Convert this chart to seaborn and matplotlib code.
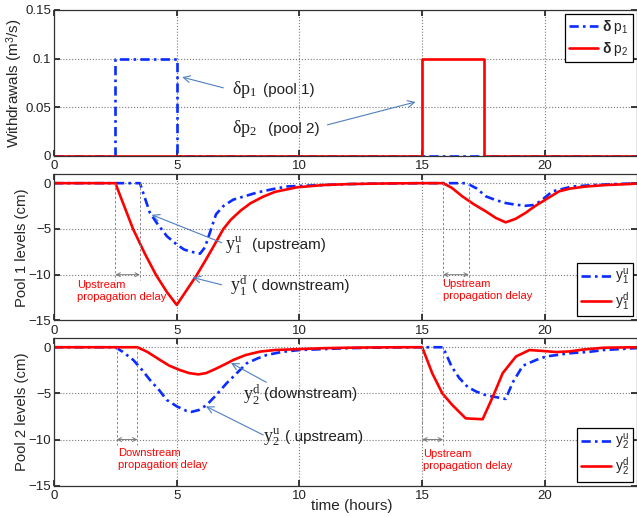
import matplotlib
matplotlib.use("Agg")
import matplotlib.pyplot as plt
import numpy as np
import pandas as pd
import seaborn as sns

# ---------------- data ----------------
# withdrawals (m^3/s)
t_dp1 = [0, 2.5, 2.5, 5, 5, 24]
v_dp1 = [0, 0, 0.1, 0.1, 0, 0]
t_dp2 = [0, 15, 15, 17.5, 17.5, 24]
v_dp2 = [0, 0, 0.1, 0.1, 0, 0]

# pool 1 levels (cm)
t_y1u = [0, 3.5, 3.6, 3.75, 3.9, 4.2, 4.6, 5.0, 5.3, 5.6, 5.95, 6.15, 6.35, 6.6, 6.9,
         7.3, 7.8, 8.3, 9.0, 9.5, 10, 11, 12, 13, 14, 15, 16.0, 16.8, 17.2, 17.6, 18.0,
         18.4, 18.8, 19.2, 19.5, 19.8, 20.3, 21.1, 22, 23, 24]
v_y1u = [0, 0, -0.8, -2.0, -3.2, -4.4, -5.8, -6.7, -7.25, -7.5, -7.7, -7.0, -5.4, -3.4, -2.5,
         -1.8, -1.4, -1.0, -0.6, -0.36, -0.3, -0.2, -0.1, -0.05, -0.02, 0, 0, 0, -0.55, -1.45, -1.85,
         -2.17, -2.35, -2.47, -2.4, -2.0, -0.9, -0.37, -0.2, -0.08, 0]
t_y1d = [0, 2.5, 2.8, 3.22, 3.7, 4.15, 4.6, 5.0, 5.4, 5.8, 6.2, 6.5, 6.9, 7.2, 7.6, 8.0,
         8.5, 9.0, 9.9, 11, 12, 13, 14, 15, 15.85, 16.2, 16.64, 17.1, 17.59, 18.0, 18.4,
         18.8, 19.2, 19.6, 19.9, 20.57, 21.0, 21.65, 22.5, 23.55, 24]
v_y1d = [0, 0, -2.1, -5.0, -7.7, -10.0, -11.9, -13.3, -11.7, -10.1, -8.3, -6.9, -5.0, -4.0, -3.0, -2.2,
         -1.5, -0.95, -0.45, -0.2, -0.1, -0.05, -0.02, 0, 0, -0.5, -1.45, -2.3, -3.08, -3.8, -4.28,
         -3.9, -3.26, -2.5, -2.0, -0.9, -0.6, -0.37, -0.2, -0.08, 0]

# pool 2 levels (cm)
t_y2u = [0, 2.5, 2.8, 3.23, 3.6, 3.91, 4.3, 4.59, 5.0, 5.4, 5.6, 5.9, 6.22, 6.6, 7.03, 7.45,
         7.85, 8.3, 8.66, 9.3, 10, 11, 12, 13, 14, 15, 15.85, 16.0, 16.2, 16.5, 16.85, 17.2,
         17.6, 18.0, 18.4, 18.69, 19.1, 19.64, 20.05, 20.46, 21.0, 21.8, 22.4, 23.7, 24]
v_y2u = [0, 0, -0.5, -1.38, -2.5, -3.55, -4.7, -5.7, -6.4, -6.9, -7.0, -6.8, -6.26, -5.2, -3.9, -2.8,
         -1.74, -1.2, -0.84, -0.5, -0.3, -0.2, -0.1, -0.05, -0.02, 0, 0, -0.9, -2.1, -3.3, -4.3, -4.8,
         -5.2, -5.4, -5.6, -3.8, -2.0, -1.38, -1.0, -0.85, -0.65, -0.5, -0.3, -0.1, -0.05]
t_y2d = [0, 3.4, 3.8, 4.32, 4.7, 5.13, 5.5, 5.88, 6.2, 6.63, 7.0, 7.3, 7.8, 8.39, 9.0, 10,
         11, 12, 13, 14, 15, 15.41, 15.82, 16.23, 16.77, 17.1, 17.46, 17.87, 18.28, 18.82,
         19.37, 19.9, 20.46, 21.0, 21.56, 22.4, 23.7, 24]
v_y2d = [0, 0, -0.5, -1.38, -2.0, -2.47, -2.8, -2.94, -2.8, -2.28, -1.8, -1.38, -0.85, -0.47, -0.3, -0.2,
         -0.1, -0.05, -0.02, 0, 0, -2.83, -5.0, -6.27, -7.7, -7.75, -7.8, -5.4, -2.8, -1.0,
         -0.3, -0.4, -0.52, -0.45, -0.25, -0.05, 0, 0]

x_ticks = [0, 5, 10, 15, 20]
top_yticks = [0, 0.05, 0.1, 0.15]
top_yticklabels = ["0", "0.05", "0.1", "0.15"]
lvl_yticks = [-15, -10, -5, 0]

# ---------------- style ----------------
sns.set_theme(style="ticks")
plt.rcParams["font.family"] = ["Liberation Sans", "DejaVu Sans"]
plt.rcParams["mathtext.fontset"] = "custom"
plt.rcParams["mathtext.rm"] = "Liberation Serif"
plt.rcParams["mathtext.it"] = "Liberation Serif:italic"
plt.rcParams["mathtext.bf"] = "Liberation Sans:bold"
plt.rcParams["mathtext.sf"] = "Liberation Sans"

BLUE = "#0a2cff"
RED = "#ff0000"
ARROW = "#4f7fbf"
DASHDOT = (0, (3.5, 1.6, 1.0, 1.6))

fig = plt.figure(figsize=(6.37, 5.17), dpi=100)
left, width = 0.0848, 0.9152
ax1 = fig.add_axes([left, 0.6983, width, 0.2824])
ax2 = fig.add_axes([left, 0.3801, width, 0.2833])
ax3 = fig.add_axes([left, 0.0605, width, 0.2857])


def line(ax, t, v, color, ls, label):
    df = pd.DataFrame({"t": t, "v": v})
    sns.lineplot(data=df, x="t", y="v", ax=ax, color=color, linestyle=ls, lw=1.9,
                 estimator=None, sort=False, label=label)


def style_axes(ax):
    ax.set_xlim(0, 23.75)
    ax.set_xticks(x_ticks)
    ax.grid(True, ls=":", color="#7a7a7a", lw=0.8)
    ax.tick_params(direction="in", top=True, right=True, length=4, labelsize=9.5,
                   colors="#222222")
    ax.tick_params(axis="y", pad=2)
    ax.tick_params(axis="x", pad=3)
    for s in ax.spines.values():
        s.set_color("#333333")
        s.set_linewidth(0.9)
    ax.set_xlabel("")


# top panel
line(ax1, t_dp1, v_dp1, BLUE, DASHDOT, r"$\mathbf{\delta}\ \mathsf{p_1}$")
line(ax1, t_dp2, v_dp2, RED, "-", r"$\mathbf{\delta}\ \mathsf{p_2}$")
style_axes(ax1)
ax1.set_ylim(0, 0.15)
ax1.set_yticks(top_yticks)
ax1.set_yticklabels(top_yticklabels)
ax1.set_ylabel(r"Withdrawals (m$^\mathsf{3}$/s)", fontsize=11, labelpad=0)

# middle panel
line(ax2, t_y1u, v_y1u, BLUE, DASHDOT, r"$\mathsf{y_1^u}$")
line(ax2, t_y1d, v_y1d, RED, "-", r"$\mathsf{y_1^d}$")
style_axes(ax2)
ax2.set_ylim(-15, 1)
ax2.set_yticks(lvl_yticks)
ax2.set_ylabel("Pool 1 levels (cm)", fontsize=10.7, labelpad=0)

# bottom panel
line(ax3, t_y2u, v_y2u, BLUE, DASHDOT, r"$\mathsf{y_2^u}$")
line(ax3, t_y2d, v_y2d, RED, "-", r"$\mathsf{y_2^d}$")
style_axes(ax3)
ax3.set_ylim(-15, 1)
ax3.set_yticks(lvl_yticks)
ax3.set_ylabel("Pool 2 levels (cm)", fontsize=10.7, labelpad=0)
ax3.set_xlabel("time (hours)", fontsize=11)
ax3.xaxis.set_label_coords(0.51, -0.088)

# legends
leg_kw = dict(frameon=True, fancybox=False, edgecolor="black", framealpha=1,
              fontsize=10, handlelength=2.1, handletextpad=0.3, borderpad=0.3,
              labelspacing=0.25, borderaxespad=0.3)
ax1.legend(loc="upper right", **leg_kw)
ax2.legend(loc="lower right", **leg_kw)
ax3.legend(loc="lower right", **leg_kw)
for ax in (ax1, ax2, ax3):
    ax.get_legend().get_frame().set_linewidth(0.9)

# annotations
arrow_kw = dict(arrowstyle="->", color=ARROW, lw=0.8, shrinkA=0, shrinkB=0)
serif = dict(fontsize=13, va="center", color="#222222")
sans = dict(fontsize=11, va="center", color="#222222")

ax1.annotate("", xy=(5.22, 0.081), xytext=(6.9, 0.070), arrowprops=arrow_kw)
ax1.annotate("", xy=(14.73, 0.0555), xytext=(11.14, 0.032), arrowprops=arrow_kw)
ax1.text(7.27, 0.068, r"$\mathrm{\delta p_1}$", **serif)
ax1.text(8.5, 0.068, "(pool 1)", **sans)
ax1.text(7.27, 0.028, r"$\mathrm{\delta p_2}$", **serif)
ax1.text(8.7, 0.028, "(pool 2)", **sans)

ax2.annotate("", xy=(3.98, -3.45), xytext=(6.83, -6.5), arrowprops=arrow_kw)
ax2.annotate("", xy=(5.65, -10.3), xytext=(6.83, -11.1), arrowprops=arrow_kw)
ax2.text(6.95, -6.8, r"$\mathrm{y_1^u}$", **serif)
ax2.text(8.05, -6.8, "(upstream)", **sans)
ax2.text(7.15, -11.2, r"$\mathrm{y_1^d}$", **serif)
ax2.text(8.05, -11.2, "( downstream)", **sans)

ax3.annotate("", xy=(7.21, -1.7), xytext=(8.65, -3.8), arrowprops=arrow_kw)
ax3.annotate("", xy=(6.19, -6.4), xytext=(8.52, -9.5), arrowprops=arrow_kw)
ax3.text(7.7, -5.1, r"$\mathrm{y_2^d}$", **serif)
ax3.text(8.56, -5.1, "(downstream)", **sans)
ax3.text(8.5, -9.7, r"$\mathrm{y_2^u}$", **serif)
ax3.text(9.4, -9.7, "( upstream)", **sans)

# propagation delay markers
delay_kw = dict(color="#888888", lw=0.7, ls=(0, (2.5, 2)))
dbl_kw = dict(arrowstyle="<->", color="#777777", lw=0.7, shrinkA=0, shrinkB=0,
              mutation_scale=7)
red_kw = dict(color=RED, fontsize=8, va="top", ha="left", linespacing=1.25)


def delay(ax, t0, t1, tx, ty, label):
    for t in (t0, t1):
        ax.plot([t, t], [0, -10.6], **delay_kw)
    ax.annotate("", xy=(t0, -10), xytext=(t1, -10), arrowprops=dbl_kw)
    ax.text(tx, ty, label, **red_kw)


delay(ax2, 2.5, 3.5, 0.95, -10.55, "Upstream\npropagation delay")
delay(ax2, 15.85, 16.9, 15.83, -10.5, "Upstream\npropagation delay")
delay(ax3, 2.55, 3.4, 2.6, -10.9, "Downstream\npropagation delay")
delay(ax3, 15.0, 15.85, 15.03, -11.0, "Upstream\npropagation delay")

fig.savefig("out.png", dpi=100)
